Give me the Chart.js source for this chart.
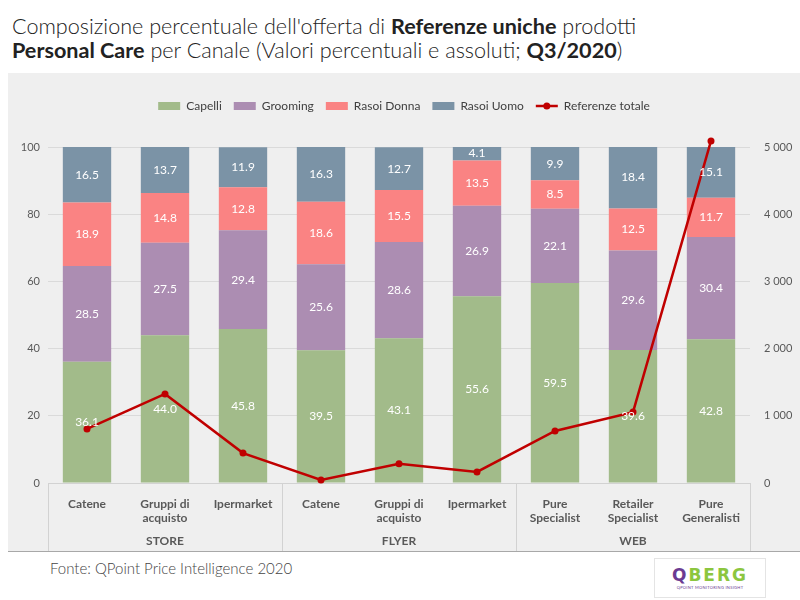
<!DOCTYPE html>
<html lang="it">
<head>
<meta charset="UTF-8">
<title>Referenze uniche Personal Care per Canale</title>
<style>
    body {
        margin: 0;
        width: 800px;
        height: 600px;
        background: #fff;
        font-family: Lato, sans-serif;
        position: relative;
        overflow: hidden;
    }
    .title {
        position: absolute;
        left: 12px;
        top: 14px;
        font-size: 21.6px;
        font-weight: 300;
        line-height: 24px;
        color: #222;
        white-space: nowrap;
    }
    .title b { font-weight: 700; }
    .panel {
        position: absolute;
        left: 8px;
        top: 73px;
        width: 792px;
        height: 478px;
        background: #efefef;
        border-bottom: 1px solid #a8a8a8;
    }
    .fonte {
        position: absolute;
        left: 50px;
        top: 559px;
        font-size: 15px;
        font-weight: 300;
        color: #444;
    }
    .logo {
        position: absolute;
        left: 654px;
        top: 558px;
        width: 110px;
        height: 38px;
        border: 1px solid #e4e4e4;
        text-align: center;
    }
    .logo .brand {
        font-family: "DejaVu Sans", sans-serif;
        font-size: 17px;
        font-weight: 700;
        letter-spacing: 2px;
        line-height: 20px;
        margin-top: 6px;
        color: #8cc63f;
    }
    .logo .brand span { color: #6b3b92; }
    .logo .tag {
        font-size: 4px;
        color: #6b3b92;
        letter-spacing: 0.3px;
    }
</style>
<script src="https://cdn.jsdelivr.net/npm/chart.js"></script>
</head>
<body>

<div class="title">Composizione percentuale dell'offerta di <b>Referenze uniche</b> prodotti<br><b>Personal Care</b> per Canale (Valori percentuali e assoluti; <b>Q3/2020</b>)</div>

<div class="panel"><canvas id="chart" width="792" height="478"></canvas></div>

<div class="fonte">Fonte: QPoint Price Intelligence 2020</div>
<div class="logo"><div class="brand"><span>Q</span>BERG</div><div class="tag">QPOINT MONITORING INSIGHT</div></div>

<script>
    // categorie e gruppi (canali)
    const categories = [['Catene'], ['Gruppi di', 'acquisto'], ['Ipermarket'],
                        ['Catene'], ['Gruppi di', 'acquisto'], ['Ipermarket'],
                        ['Pure', 'Specialist'], ['Retailer', 'Specialist'], ['Pure', 'Generalisti']];
    const groups = ['STORE', 'FLYER', 'WEB'];

    // valori percentuali
    const capelli    = [36.1, 44.0, 45.8, 39.5, 43.1, 55.6, 59.5, 39.6, 42.8];
    const grooming   = [28.5, 27.5, 29.4, 25.6, 28.6, 26.9, 22.1, 29.6, 30.4];
    const rasoiDonna = [18.9, 14.8, 12.8, 18.6, 15.5, 13.5, 8.5, 12.5, 11.7];
    const rasoiUomo  = [16.5, 13.7, 11.9, 16.3, 12.7, 4.1, 9.9, 18.4, 15.1];

    // referenze totali (valori assoluti, asse destro)
    const referenzeTotale = [805, 1325, 445, 45, 285, 165, 775, 1055, 5090];

    const textGrey = '#595959';
    const lineRed = '#c00000';

    // etichette dei valori dentro le barre
    const valueLabels = {
        id: 'valueLabels',
        afterDatasetsDraw(chart) {
            const ctx = chart.ctx;
            ctx.save();
            // punti della linea fuori dall'area (es. 5090 > 5000)
            chart.data.datasets.forEach((ds, i) => {
                if (ds.type !== 'line') return;
                chart.getDatasetMeta(i).data.forEach(pt => {
                    if (pt.y < chart.chartArea.top) {
                        ctx.fillStyle = lineRed;
                        ctx.beginPath();
                        ctx.arc(pt.x, pt.y, 3.5, 0, Math.PI * 2);
                        ctx.fill();
                    }
                });
            });
            ctx.font = '12px Lato';
            ctx.fillStyle = '#fff';
            ctx.textAlign = 'center';
            ctx.textBaseline = 'middle';
            chart.data.datasets.forEach((ds, i) => {
                if (ds.type === 'line') return;
                chart.getDatasetMeta(i).data.forEach((bar, j) => {
                    const p = bar.getProps(['x', 'y', 'base'], true);
                    ctx.fillText(ds.data[j].toFixed(1), p.x, (p.y + p.base) / 2);
                });
            });
            ctx.restore();
        }
    };

    // etichette dei gruppi + separatori
    const groupLabels = {
        id: 'groupLabels',
        afterDraw(chart) {
            const ctx = chart.ctx;
            const x = chart.scales.x;
            const half = (x.getPixelForValue(1) - x.getPixelForValue(0)) / 2;
            const bottom = chart.chartArea.bottom;
            ctx.save();
            ctx.strokeStyle = '#d2d2d2';
            ctx.lineWidth = 1;
            for (let g = 0; g <= groups.length; g++) {
                const px = Math.round(x.getPixelForValue(g * 3) - half) + 0.5;
                ctx.beginPath();
                ctx.moveTo(px, bottom);
                ctx.lineTo(px, chart.height);
                ctx.stroke();
            }
            ctx.font = 'bold 12px Lato';
            ctx.fillStyle = textGrey;
            ctx.textAlign = 'center';
            ctx.textBaseline = 'middle';
            groups.forEach((name, g) => {
                const cx = (x.getPixelForValue(g * 3) + x.getPixelForValue(g * 3 + 2)) / 2;
                ctx.fillText(name, cx, bottom + 58);
            });
            // pallino sulla linea della legenda
            const box = chart.legend.legendHitBoxes[4];
            if (box) {
                ctx.fillStyle = lineRed;
                ctx.beginPath();
                ctx.arc(box.left + 11, box.top + box.height / 2, 3.5, 0, Math.PI * 2);
                ctx.fill();
            }
            ctx.restore();
        }
    };

    // spazio sotto la legenda
    const legendMargin = {
        id: 'legendMargin',
        beforeInit(chart) {
            const fit = chart.legend.fit;
            chart.legend.fit = function () {
                fit.bind(chart.legend)();
                this.height += 25;
            };
        }
    };

    const ctx = document.getElementById('chart').getContext('2d');
    new Chart(ctx, {
        type: 'bar',
        data: {
            labels: categories,
            datasets: [
                { label: 'Capelli', data: capelli, backgroundColor: '#a2bb8a', order: 1 },
                { label: 'Grooming', data: grooming, backgroundColor: '#ac8db2', order: 1 },
                { label: 'Rasoi Donna', data: rasoiDonna, backgroundColor: '#fa8383', order: 1 },
                { label: 'Rasoi Uomo', data: rasoiUomo, backgroundColor: '#7b93a6', order: 1 },
                {
                    label: 'Referenze totale', type: 'line', data: referenzeTotale, yAxisID: 'y1',
                    borderColor: lineRed, backgroundColor: lineRed, borderWidth: 2.5,
                    pointRadius: 3.5, pointBackgroundColor: lineRed, pointBorderWidth: 0,
                    tension: 0, order: 0, clip: false
                }
            ]
        },
        options: {
            responsive: false,
            animation: false,
            layout: { padding: { top: 15, left: 0, right: 0, bottom: 0 } },
            datasets: { bar: { categoryPercentage: 1, barPercentage: 0.62 } },
            scales: {
                x: {
                    stacked: true,
                    grid: { display: false },
                    border: { color: '#d2d2d2' },
                    ticks: { color: textGrey, font: { family: 'Lato', size: 12, weight: 'bold' }, padding: 6, maxRotation: 0 },
                    afterFit(scale) { scale.height = 68; }
                },
                y: {
                    stacked: true,
                    min: 0, max: 100,
                    ticks: { stepSize: 20, color: textGrey, font: { family: 'Lato', size: 11 }, padding: 8 },
                    grid: { color: '#dadada', drawTicks: false },
                    border: { display: false },
                    afterFit(scale) { scale.width = 40; }
                },
                y1: {
                    position: 'right',
                    min: 0, max: 5000,
                    ticks: {
                        stepSize: 1000, color: textGrey, font: { family: 'Lato', size: 11 }, padding: 6,
                        callback: v => v >= 1000 ? Math.floor(v / 1000) + ' ' + String(v % 1000).padStart(3, '0') : v
                    },
                    grid: { display: false },
                    border: { display: false },
                    afterFit(scale) { scale.width = 50; }
                }
            },
            plugins: {
                legend: {
                    position: 'top',
                    labels: {
                        usePointStyle: true,
                        pointStyleWidth: 22,
                        boxHeight: 8,
                        padding: 12,
                        color: '#404040',
                        font: { family: 'Lato', size: 12 },
                        sort: (a, b) => a.datasetIndex - b.datasetIndex,
                        generateLabels(chart) {
                            const items = Chart.defaults.plugins.legend.labels.generateLabels(chart);
                            items.forEach(it => {
                                if (it.datasetIndex < 4) { it.pointStyle = 'rect'; it.lineWidth = 0; }
                                else { it.pointStyle = 'line'; it.lineWidth = 2.5; }
                            });
                            return items;
                        }
                    }
                },
                tooltip: { enabled: false }
            }
        },
        plugins: [valueLabels, groupLabels, legendMargin]
    });
</script>
</body>
</html>
